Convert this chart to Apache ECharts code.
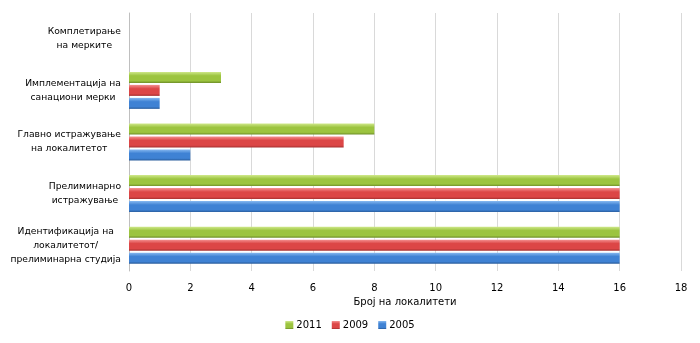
<!DOCTYPE html>
<html><head><meta charset="utf-8">
<script src="https://cdn.jsdelivr.net/npm/echarts@6/dist/echarts.min.js"></script>
<style>html,body{margin:0;padding:0;background:#fff}#c{width:700px;height:343px}</style>
</head><body><div id="c"></div>
<script>
const categories = [
  "Идентификација на\nлокалитетот/\nпрелиминарна студија",
  "Прелиминарно\nистражување",
  "Главно истражување\nна локалитетот",
  "Имплементација на\nсанациони мерки",
  "Комплетирање\nна мерките"
];
const seriesNames = ["2011", "2009", "2005"];
const values2011 = [16, 16, 8, 3, 0];
const values2009 = [16, 16, 7, 1, 0];
const values2005 = [16, 16, 2, 1, 0];
const xTicks = [0, 2, 4, 6, 8, 10, 12, 14, 16, 18];

function grad(top, mid, bot) {
  return new echarts.graphic.LinearGradient(0, 0, 0, 1, [
    {offset: 0, color: top}, {offset: 0.35, color: mid}, {offset: 0.8, color: mid}, {offset: 1, color: bot}
  ]);
}
const colors = {
  "2005": grad('#86b8f0', '#3f82d4', '#295c9c'),
  "2009": grad('#f49090', '#dc4646', '#a63030'),
  "2011": grad('#cfe88a', '#9cc43f', '#6e8f28')
};
const data = {"2005": values2005, "2009": values2009, "2011": values2011};

const chart = echarts.init(document.getElementById('c'), null, {renderer: 'canvas'});
chart.setOption({
  animation: false,
  textStyle: {fontFamily: 'DejaVu Sans'},
  grid: {left: 129, right: 19, top: 13, bottom: 72, containLabel: false, outerBoundsMode: 'none'},
  legend: {
    data: ["2011", "2009", "2005"],
    bottom: 8, left: 'center',
    itemWidth: 8, itemHeight: 8, itemGap: 10,
    icon: 'rect',
    textStyle: {fontSize: 10, color: '#000', padding: [0, 0, 0, -2]}
  },
  xAxis: {
    type: 'value', min: 0, max: 18, interval: 2,
    name: 'Број на локалитети', nameLocation: 'middle', nameGap: 24,
    nameTextStyle: {fontSize: 10, color: '#000'},
    axisLine: {show: false},
    axisTick: {show: false},
    axisLabel: {fontSize: 10, color: '#000', margin: 12,
      formatter: v => xTicks.includes(v) ? String(v) : ''},
    splitLine: {show: true, lineStyle: {color: '#d9d9d9', width: 1}}
  },
  yAxis: {
    type: 'category', data: categories,
    axisLine: {show: true, lineStyle: {color: '#bfbfbf'}},
    axisTick: {show: false},
    axisLabel: {
      color: '#000', margin: 8, align: 'right',
      formatter: v => v.split('\n').map(l => '{c|' + l + '}').join('\n'),
      rich: {c: {align: 'center', fontSize: 9.2, lineHeight: 14, color: '#000', fontFamily: 'DejaVu Sans'}}
    },
  },
  series: seriesNames.map(n => ({
    name: n, type: 'bar', data: data[n],
    barWidth: 11, barGap: '18%',
    itemStyle: {color: colors[n]},
    emphasis: {disabled: true}
  }))
});
</script></body></html>
